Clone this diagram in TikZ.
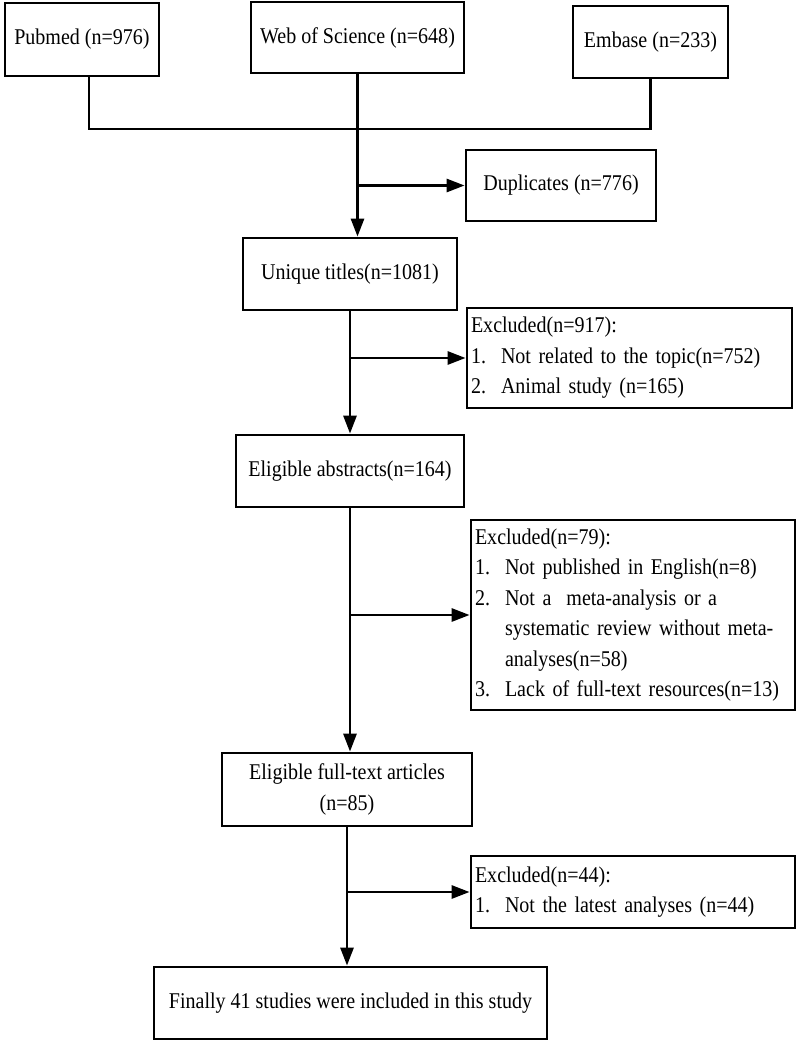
\documentclass[tikz,border=0pt]{standalone}
\usepackage{fontspec}
\setmainfont{Liberation Serif}[FakeStretch=0.89]
\usetikzlibrary{arrows.meta}
\newcommand{\exnum}[1]{\makebox[30pt][l]{#1}}
\newcommand{\exgap}{\hspace*{30pt}}
\begin{document}
\begin{tikzpicture}[>={Triangle[length=18pt,width=13pt]}, x=1pt, y=1pt, line width=2.8pt,
		box/.style={draw, line width=2.8pt, inner sep=0pt, align=center, font=\fontsize{22.5}{31}\selectfont},
		exbox/.style={draw, line width=2.8pt, inner xsep=4pt, inner ysep=0pt, align=left, font=\fontsize{22.5}{30.5}\selectfont}]
			\useasboundingbox (0,0) rectangle (797,-1043);
			% sources
			\node[box, minimum width=154pt, minimum height=73pt] (pubmed) at (82,-39.5) {Pubmed (n=976)};
			\node[box, minimum width=213pt, minimum height=71pt] (wos) at (357.5,-37.5) {Web of Science (n=648)};
			\node[box, minimum width=155pt, minimum height=72pt] (embase) at (650.5,-42) {Embase (n=233)};
			% main column
			\node[box, minimum width=190pt, minimum height=71pt] (dup) at (561,-185.5) {Duplicates (n=776)};
			\node[box, minimum width=214pt, minimum height=72pt] (unique) at (350,-274) {Unique titles(n=1081)};
			\node[box, minimum width=228pt, minimum height=72pt] (abstr) at (350,-471) {Eligible abstracts(n=164)};
			\node[box, minimum width=250pt, minimum height=73pt] (full) at (347,-789.5) {Eligible full-text articles\\(n=85)};
			\node[box, minimum width=393pt, minimum height=72pt] (final) at (350.5,-1003) {Finally 41 studies were included in this study};
			% exclusions
			\node[exbox, text width=317pt, minimum height=100pt] (excla) at (629.5,-358) {Excluded(n=917):\\
				\exnum{1.}Not related to the topic(n=752)\\
				\exnum{2.}Animal study (n=165)};
			\node[exbox, text width=316pt, minimum height=190pt] (exclb) at (633,-615) {Excluded(n=79):\\
				\exnum{1.}Not published in English(n=8)\\
				\exnum{2.}Not a\ \ meta-analysis or a\\
				\exgap systematic review without meta-\\
				\exgap analyses(n=58)\\
				\exnum{3.}Lack of full-text resources(n=13)};
			\node[exbox, text width=316pt, minimum height=72pt] (exclc) at (633,-892) {Excluded(n=44):\\
				\exnum{1.}Not the latest analyses (n=44)};
			% connectors
			\coordinate (merge) at (358,-129);
			\draw ([xshift=7pt]pubmed.south) |- (merge) -| (embase.south);
			\draw[->] (wos.south) -- (wos.south |- unique.north);
			\draw[->] (wos.south |- dup.west) -- (dup.west);
			\draw[->] (unique.south) -- (abstr.north);
			\draw[->] (unique.south |- excla.west) -- (excla.west);
			\draw[->] (abstr.south) -- (abstr.south |- full.north);
			\draw[->] (abstr.south |- exclb.west) -- (exclb.west);
			\draw[->] (full.south) -- (full.south |- final.north);
			\draw[->] (full.south |- exclc.west) -- (exclc.west);
		\end{tikzpicture}
\end{document}
